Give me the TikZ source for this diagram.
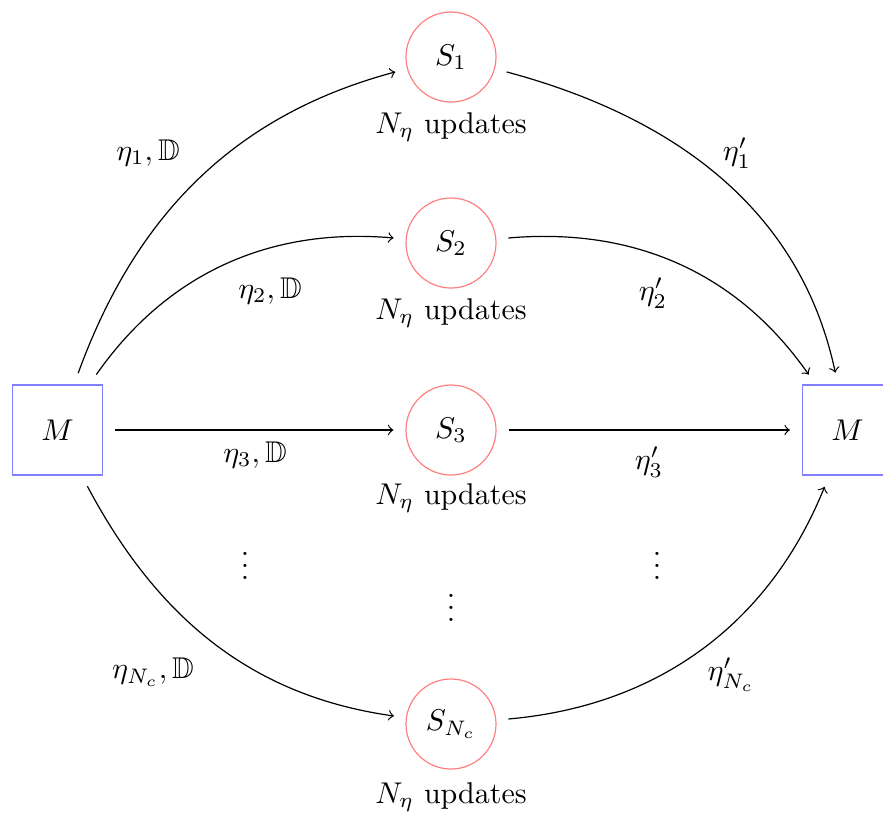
\documentclass[tikz,border=0pt]{standalone}
\usepackage{amssymb}
\begin{document}
\begin{tikzpicture}[x=0.33333pt,y=-0.33333pt,
  mbox/.style={draw=blue!50, minimum size=30pt, inner sep=0pt},
  snode/.style={draw=red!50, circle, minimum size=30pt, inner sep=0pt},
  conn/.style={->, shorten >=4pt, shorten <=4pt},
  dots/.style={inner sep=0pt}]
\useasboundingbox (0,0) rectangle (883,814);
\node[mbox] (ML) at (57.5,430) {$M$};
\node[mbox] (MR) at (847.5,430) {$M$};
\node[snode] (S1) at (451,57) {$S_1$};
\node[snode] (S2) at (451,243) {$S_2$};
\node[snode] (S3) at (451,430) {$S_3$};
\node[snode] (SN) at (451,724) {$S_{N_c}$};
\node (U1) at (451,127) {$N_\eta$ updates};
\node (U2) at (451,313) {$N_\eta$ updates};
\node (U3) at (451,498) {$N_\eta$ updates};
\node (UN) at (451,797) {$N_\eta$ updates};
\draw[conn] (ML) to[out=70,in=195] (S1);
\draw[conn] (ML) to[out=55,in=175] (S2);
\draw[conn] (ML) -- (S3);
\draw[conn] (ML) to[out=-62,in=172] (SN);
\draw[conn] (S1) to[out=-15,in=102] (MR);
\draw[conn] (S2) to[out=5,in=125] (MR);
\draw[conn] (S3) -- (MR);
\draw[conn] (SN) to[out=5,in=-112] (MR);
\node (L1) at (148,153) {$\eta_1,\mathbb{D}$};
\node (L2) at (270,291) {$\eta_2,\mathbb{D}$};
\node (L3) at (255,455) {$\eta_3,\mathbb{D}$};
\node (LN) at (153,672) {$\eta_{N_c},\mathbb{D}$};
\node (R1) at (737,153) {$\eta'_1$};
\node (R2) at (653,293) {$\eta'_2$};
\node (R3) at (649,462) {$\eta'_3$};
\node (RN) at (731,675) {$\eta'_{N_c}$};
\node[dots] (D1) at (245,557) {$\vdots$};
\node[dots] (D2) at (451,599) {$\vdots$};
\node[dots] (D3) at (657,557) {$\vdots$};
\end{tikzpicture}
\end{document}
